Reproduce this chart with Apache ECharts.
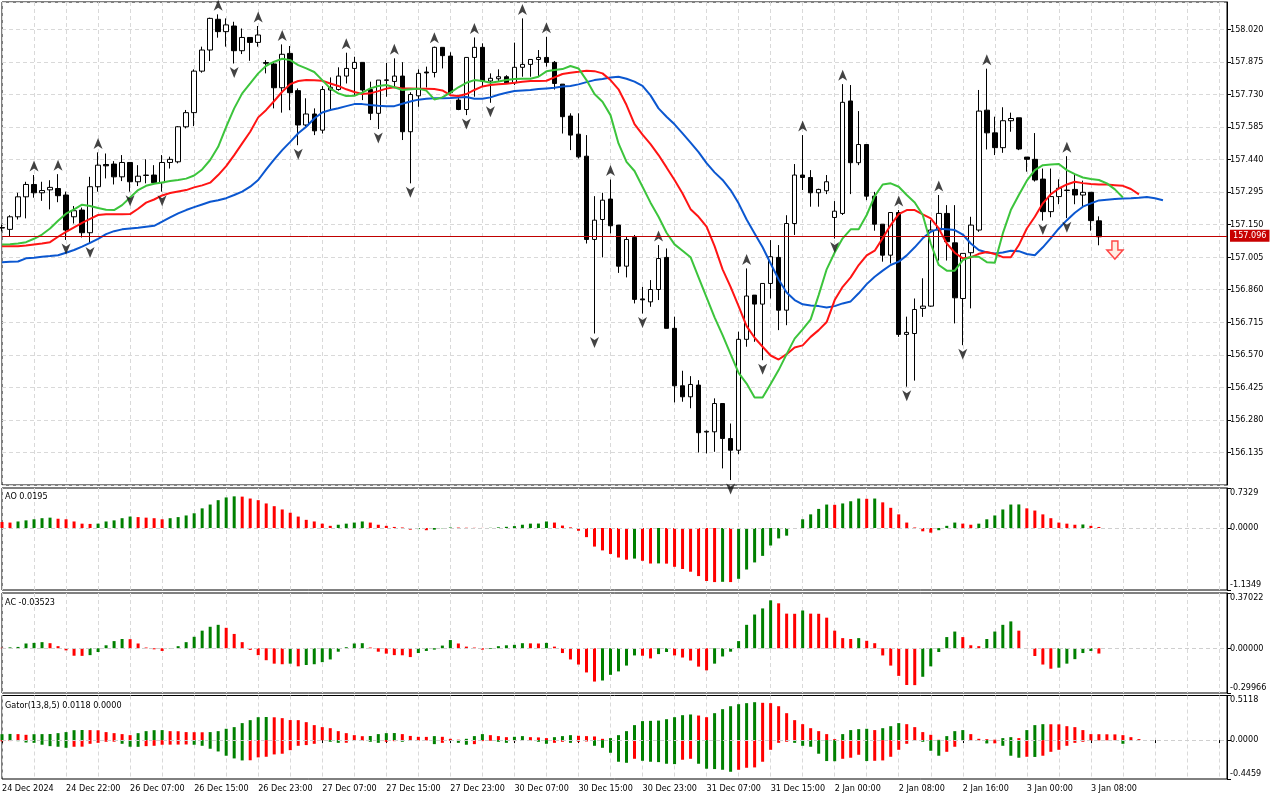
<!DOCTYPE html>
<html><head><meta charset="utf-8">
<script src="https://cdn.jsdelivr.net/npm/echarts@6/dist/echarts.min.js"></script>
<style>html,body{margin:0;padding:0;background:#fff}#c{width:1280px;height:800px}</style>
</head><body><div id="c"></div>
<script>
// ---------- DATA (hourly bars) ----------
const tickLabels = ["24 Dec 2024","24 Dec 22:00","26 Dec 07:00","26 Dec 15:00","26 Dec 23:00","27 Dec 07:00","27 Dec 15:00","27 Dec 23:00","30 Dec 07:00","30 Dec 15:00","30 Dec 23:00","31 Dec 07:00","31 Dec 15:00","2 Jan 00:00","2 Jan 08:00","2 Jan 16:00","3 Jan 00:00","3 Jan 08:00"];
const slotCount = 154;
const lastPrice = 157.096;

const opens = [157.135,157.129,157.185,157.274,157.329,157.292,157.305,157.311,157.282,157.185,
157.215,157.114,157.319,157.418,157.420,157.363,157.427,157.341,157.369,157.371,
157.337,157.427,157.430,157.586,157.649,157.834,157.928,158.065,158.010,158.035,
157.925,157.984,157.962,157.872,157.866,157.760,157.913,157.747,157.594,157.643,
157.571,157.750,157.752,157.812,157.846,157.873,157.752,157.646,157.793,157.788,
157.812,157.564,157.724,157.830,157.828,157.940,157.901,157.705,157.663,157.895,
157.940,157.790,157.800,157.809,157.782,157.851,157.864,157.886,157.895,157.873,
157.776,157.634,157.553,157.455,157.084,157.173,157.264,157.148,156.965,157.093,
156.819,156.806,156.861,157.004,156.688,156.432,156.383,156.435,156.226,156.227,
156.353,156.197,156.145,156.639,156.836,156.796,156.888,157.004,156.769,157.155,
157.371,157.360,157.292,157.301,157.182,157.200,157.701,157.426,157.507,157.277,
157.152,157.014,157.204,156.661,156.665,156.777,156.787,157.126,157.200,157.069,
156.821,157.025,157.126,157.660,157.559,157.493,157.613,157.626,157.451,157.441,
157.353,157.208,157.275,157.302,157.307,157.282,157.294,157.167];
const closes = [157.137,157.185,157.274,157.329,157.292,157.302,157.316,157.279,157.126,157.212,
157.114,157.319,157.415,157.412,157.363,157.427,157.341,157.366,157.371,157.337,
157.427,157.441,157.586,157.649,157.834,157.928,158.069,158.010,158.040,157.925,
157.984,157.962,157.995,157.869,157.760,157.909,157.738,157.594,157.643,157.568,
157.752,157.762,157.812,157.846,157.873,157.750,157.646,157.794,157.795,157.812,
157.564,157.730,157.824,157.826,157.940,157.903,157.738,157.663,157.895,157.940,
157.790,157.802,157.809,157.782,157.851,157.864,157.886,157.895,157.873,157.779,
157.631,157.549,157.452,157.084,157.170,157.259,157.145,156.965,157.084,156.817,
156.815,156.861,156.999,156.688,156.432,156.383,156.438,156.223,156.229,156.353,
156.197,156.145,156.639,156.832,156.796,156.888,157.007,156.769,157.155,157.371,
157.360,157.292,157.307,157.341,157.210,157.695,157.426,157.507,157.277,157.152,
157.014,157.204,156.661,156.670,156.772,156.787,157.126,157.200,157.074,156.824,
157.022,157.148,157.656,157.559,157.493,157.613,157.623,157.487,157.441,157.349,
157.208,157.275,157.312,157.304,157.282,157.294,157.168,157.096];
const lows = [157.120,157.096,157.173,157.178,157.270,157.256,157.218,157.250,157.082,157.155,
157.093,157.066,157.297,157.356,157.329,157.344,157.297,157.322,157.334,157.334,
157.297,157.400,157.423,157.579,157.589,157.827,157.879,157.983,157.943,157.868,
157.910,157.880,157.943,157.824,157.668,157.649,157.660,157.504,157.586,157.549,
157.556,157.660,157.747,157.779,157.727,157.705,157.616,157.576,157.720,157.761,
157.527,157.334,157.675,157.761,157.806,157.846,157.732,157.660,157.638,157.720,
157.764,157.693,157.787,157.779,157.772,157.809,157.809,157.809,157.854,157.752,
157.556,157.482,157.445,157.066,156.665,157.004,157.111,156.935,156.915,156.799,
156.754,156.784,156.814,156.688,156.358,156.361,156.332,156.135,156.131,156.138,
156.064,156.012,156.127,156.606,156.628,156.546,156.821,156.680,156.702,157.104,
157.304,157.230,157.230,157.286,157.088,157.193,157.286,157.415,157.259,157.123,
156.985,156.977,156.650,156.428,156.455,156.739,156.784,156.990,156.990,156.710,
156.613,156.777,157.118,157.485,157.460,157.470,157.564,157.482,157.386,157.342,
157.168,157.183,157.241,157.179,157.241,157.233,157.123,157.058];
const highs = [157.150,157.192,157.292,157.341,157.371,157.341,157.348,157.375,157.297,157.233,
157.226,157.363,157.472,157.467,157.433,157.460,157.427,157.415,157.441,157.415,
157.460,157.453,157.589,157.661,157.842,157.943,158.072,158.087,158.069,158.054,
158.024,157.984,158.035,157.883,157.876,157.953,157.946,157.757,157.713,157.668,
157.767,157.806,157.851,157.916,157.898,157.873,157.787,157.794,157.871,157.891,
157.874,157.740,157.842,157.854,157.943,157.940,157.918,157.720,157.895,157.984,
157.958,157.824,157.842,157.816,157.961,158.069,157.886,157.928,157.987,157.879,
157.776,157.646,157.646,157.549,157.277,157.292,157.351,157.148,157.099,157.104,
156.873,156.903,157.059,157.044,156.740,156.499,156.475,156.457,156.233,156.376,
156.353,156.264,156.673,156.955,156.836,156.888,157.081,157.059,157.192,157.420,
157.549,157.393,157.310,157.371,157.255,157.776,157.772,157.656,157.507,157.296,
157.152,157.204,157.215,156.740,156.821,156.911,157.170,157.282,157.237,157.237,
157.022,157.185,157.750,157.845,157.631,157.673,157.649,157.626,157.451,157.558,
157.400,157.400,157.352,157.455,157.378,157.346,157.294,157.187];

// Alligator lines (as displayed, already shifted forward)
const jawLine = [156.983,156.985,156.986,157.000,157.002,157.007,157.010,157.014,157.025,157.037,
157.052,157.069,157.087,157.108,157.121,157.129,157.133,157.136,157.141,157.145,
157.163,157.182,157.200,157.215,157.228,157.240,157.252,157.259,157.268,157.282,
157.297,157.319,157.349,157.396,157.441,157.482,157.519,157.557,157.586,157.623,
157.650,157.661,157.669,157.678,157.687,157.687,157.683,157.680,157.678,157.678,
157.689,157.699,157.707,157.711,157.713,157.713,157.714,157.717,157.719,157.711,
157.711,157.717,157.729,157.738,157.745,157.748,157.750,157.754,157.757,157.760,
157.765,157.768,157.775,157.785,157.794,157.799,157.806,157.809,157.800,157.787,
157.768,157.726,157.668,157.631,157.597,157.557,157.515,157.473,157.424,157.383,
157.349,157.304,157.245,157.173,157.111,157.049,156.977,156.906,156.848,156.814,
156.795,156.790,156.787,156.781,156.787,156.799,156.808,156.844,156.885,156.918,
156.945,156.970,156.985,157.013,157.049,157.089,157.118,157.132,157.129,157.126,
157.106,157.066,157.037,157.026,157.022,157.026,157.034,157.032,157.019,157.014,
157.049,157.090,157.133,157.170,157.203,157.230,157.245,157.258,157.261,157.264,
157.267,157.268,157.270,157.273,157.268,157.259];
const teethLine = [157.054,157.054,157.054,157.057,157.062,157.066,157.072,157.096,157.118,157.138,
157.158,157.176,157.193,157.196,157.196,157.196,157.197,157.221,157.248,157.262,
157.280,157.291,157.298,157.304,157.316,157.325,157.337,157.371,157.411,157.460,
157.512,157.564,157.628,157.661,157.701,157.742,157.776,157.790,157.794,157.793,
157.791,157.779,157.768,157.753,157.741,157.732,157.735,157.745,157.756,157.762,
157.757,157.757,157.756,157.756,157.754,157.748,157.727,157.723,157.732,157.750,
157.766,157.772,157.775,157.778,157.782,157.787,157.790,157.790,157.791,157.806,
157.821,157.827,157.831,157.836,157.834,157.824,157.794,157.753,157.683,157.598,
157.551,157.509,157.460,157.405,157.349,157.289,157.219,157.185,157.141,157.054,
156.951,156.873,156.787,156.698,156.646,156.606,156.567,156.549,156.573,156.603,
156.612,156.650,156.680,156.716,156.814,156.873,156.915,156.970,157.013,157.034,
157.090,157.148,157.197,157.215,157.215,157.196,157.178,157.133,157.066,157.025,
157.000,157.004,157.020,157.028,157.019,157.005,157.005,157.059,157.133,157.185,
157.245,157.286,157.311,157.329,157.341,157.335,157.331,157.329,157.329,157.326,
157.323,157.309,157.285];
const lipsLine = [157.062,157.063,157.066,157.072,157.087,157.106,157.133,157.167,157.199,157.218,
157.239,157.233,157.224,157.216,157.215,157.237,157.271,157.304,157.323,157.332,
157.338,157.344,157.349,157.355,157.369,157.396,157.438,157.497,157.586,157.668,
157.735,157.779,157.824,157.858,157.876,157.889,157.883,157.861,157.846,157.830,
157.794,157.757,157.735,157.723,157.724,157.738,157.757,157.768,157.772,157.762,
157.750,157.753,157.756,157.747,157.708,157.717,157.738,157.762,157.782,157.794,
157.790,157.782,157.788,157.794,157.799,157.800,157.800,157.809,157.833,157.839,
157.843,157.857,157.846,157.794,157.732,157.698,157.638,157.512,157.430,157.389,
157.319,157.248,157.185,157.114,157.062,157.034,157.005,156.915,156.826,156.737,
156.658,156.573,156.490,156.442,156.380,156.380,156.440,156.502,156.573,156.642,
156.683,156.728,156.836,156.951,157.026,157.089,157.129,157.129,157.193,157.277,
157.329,157.334,157.319,157.282,157.249,157.193,157.066,156.970,156.945,156.945,
156.992,157.007,157.007,156.983,156.980,157.111,157.215,157.282,157.346,157.393,
157.415,157.418,157.420,157.393,157.375,157.360,157.353,157.349,157.334,157.307,
157.271];

const fractalUpBars = [4,7,12,27,32,35,43,49,54,59,65,68,76,82,93,100,105,112,117,123,133];
const fractalDownBars = [8,11,16,20,29,37,47,51,58,61,74,80,91,95,104,113,120,130,133];
const sellSignalBars = [139];
const sellSignalPrices = [157.037];

const aoValues = [0.11,0.10,0.12,0.14,0.16,0.18,0.19,0.17,0.16,0.12,
0.08,0.075,0.08,0.12,0.14,0.18,0.21,0.20,0.19,0.18,
0.16,0.18,0.20,0.23,0.27,0.36,0.43,0.51,0.56,0.58,
0.575,0.54,0.51,0.45,0.40,0.34,0.28,0.21,0.15,0.12,
0.08,0.04,0.06,0.08,0.10,0.12,0.10,0.06,0.04,0.02,
0.01,-0.03,-0.02,-0.04,-0.03,-0.005,0.01,0.008,0.005,0.003,
0.002,0.004,0.012,0.022,0.035,0.06,0.08,0.082,0.12,0.10,
0.045,0.012,-0.05,-0.167,-0.34,-0.41,-0.475,-0.54,-0.58,-0.56,
-0.60,-0.65,-0.648,-0.652,-0.71,-0.75,-0.80,-0.88,-0.97,-0.99,
-0.985,-0.99,-0.93,-0.76,-0.63,-0.51,-0.32,-0.19,-0.14,-0.005,
0.16,0.25,0.35,0.43,0.425,0.45,0.49,0.54,0.535,0.54,
0.47,0.37,0.25,0.10,0.01,-0.06,-0.085,-0.04,0.04,0.10,
0.08,0.06,0.08,0.16,0.23,0.34,0.43,0.432,0.36,0.32,
0.25,0.18,0.10,0.08,0.06,0.065,0.04,0.0195];
const acValues = [0.003,0.006,0.009,0.032,0.036,0.041,0.034,0.014,-0.014,-0.050,
-0.051,-0.046,-0.025,0.020,0.048,0.062,0.061,0.032,0.005,-0.007,
-0.018,-0.002,0.014,0.041,0.077,0.118,0.144,0.157,0.137,0.096,
0.041,-0.011,-0.046,-0.080,-0.103,-0.107,-0.103,-0.121,-0.112,-0.107,
-0.093,-0.075,-0.023,0.007,0.032,0.034,0.005,-0.023,-0.036,-0.046,
-0.047,-0.059,-0.032,-0.018,-0.009,0.018,0.055,0.032,0.011,0.005,
-0.009,-0.005,0.014,0.020,0.023,0.034,0.033,0.032,0.036,0.011,
-0.032,-0.075,-0.109,-0.162,-0.223,-0.216,-0.178,-0.155,-0.116,-0.048,
-0.050,-0.068,-0.039,-0.025,-0.048,-0.062,-0.082,-0.123,-0.148,-0.103,
-0.055,-0.023,0.048,0.157,0.226,0.267,0.321,0.301,0.232,0.231,
0.253,0.232,0.231,0.205,0.118,0.068,0.062,0.068,0.050,0.034,
-0.048,-0.116,-0.185,-0.246,-0.247,-0.191,-0.121,-0.025,0.075,0.112,
0.075,0.020,0.014,0.062,0.112,0.157,0.180,0.118,0.002,-0.052,
-0.109,-0.137,-0.130,-0.103,-0.073,-0.032,-0.018,-0.03523];
const gatorUpper = [0.068,0.071,0.069,0.061,0.068,0.069,0.070,0.080,0.092,0.114,
0.116,0.115,0.113,0.092,0.080,0.069,0.057,0.080,0.103,0.114,
0.115,0.103,0.102,0.092,0.091,0.090,0.092,0.103,0.130,0.149,
0.195,0.229,0.263,0.265,0.262,0.252,0.230,0.229,0.206,0.172,
0.149,0.137,0.103,0.080,0.057,0.045,0.047,0.069,0.080,0.081,
0.069,0.048,0.038,0.037,0.046,0.038,0.015,0.005,0.015,0.046,
0.069,0.057,0.046,0.034,0.038,0.046,0.034,0.031,0.023,0.034,
0.046,0.057,0.050,0.046,0.042,0.015,0.023,0.057,0.103,0.172,
0.218,0.221,0.224,0.240,0.263,0.286,0.294,0.282,0.263,0.309,
0.355,0.389,0.412,0.424,0.435,0.428,0.424,0.389,0.309,0.229,
0.183,0.137,0.103,0.069,0.011,0.069,0.115,0.126,0.130,0.115,
0.137,0.160,0.195,0.183,0.149,0.092,0.061,0.004,0.046,0.103,
0.115,0.069,0.015,0.011,0.005,0.023,0.034,0.023,0.115,0.172,
0.183,0.182,0.181,0.160,0.149,0.115,0.069,0.068,0.067,0.066,
0.057,0.034,0.0118];
const gatorLower = [-0.014,-0.011,-0.012,-0.027,-0.031,-0.053,-0.069,-0.076,-0.088,-0.076,
-0.075,-0.042,-0.031,-0.019,-0.018,-0.042,-0.076,-0.077,-0.069,-0.065,
-0.053,-0.052,-0.051,-0.050,-0.053,-0.065,-0.099,-0.130,-0.179,-0.210,
-0.233,-0.231,-0.198,-0.191,-0.164,-0.156,-0.115,-0.065,-0.057,-0.042,
-0.002,-0.019,-0.031,-0.030,-0.008,-0.007,-0.019,-0.031,-0.019,-0.012,
-0.019,-0.010,-0.006,-0.004,-0.046,-0.031,-0.008,-0.031,-0.053,-0.046,
-0.011,-0.008,-0.019,-0.031,-0.011,-0.008,-0.004,-0.019,-0.042,-0.031,
-0.019,-0.031,-0.019,-0.015,-0.065,-0.088,-0.145,-0.248,-0.260,-0.214,
-0.237,-0.248,-0.252,-0.271,-0.275,-0.225,-0.214,-0.271,-0.328,-0.332,
-0.340,-0.363,-0.340,-0.317,-0.313,-0.248,-0.111,-0.031,-0.019,-0.031,
-0.065,-0.076,-0.156,-0.240,-0.242,-0.214,-0.202,-0.168,-0.240,-0.237,
-0.233,-0.191,-0.111,-0.042,-0.008,-0.019,-0.122,-0.179,-0.134,-0.076,
-0.008,-0.004,-0.003,-0.038,-0.037,-0.065,-0.179,-0.202,-0.191,-0.193,
-0.179,-0.134,-0.111,-0.065,-0.031,-0.019,-0.008,-0.003,-0.002,-0.001,
-0.042];

// ---------- CHART ----------
const FONT = "'DejaVu Sans Condensed','Liberation Sans',Arial,sans-serif";
const GREEN = '#008000', RED = '#ff0000';
const GRID_DASH = {color:'#d9d9d9', type:[4,3], width:1};
const slots = Array.from({length: slotCount}, (_, i) => String(i));
const every4 = (idx) => idx % 4 === 0;
const every8 = (idx) => idx % 8 === 0;

function changeColors(arr, useAbs, firstColor) {
  return arr.map((v, i) => {
    if (i === 0) return firstColor;
    const a = useAbs ? Math.abs(v) : v, b = useAbs ? Math.abs(arr[i-1]) : arr[i-1];
    return a > b ? GREEN : RED;
  });
}
function histData(arr, useAbs, firstColor) {
  const cols = changeColors(arr, useAbs, firstColor);
  return arr.map((v, i) => ({value: v, itemStyle: {color: cols[i]}}));
}

const grids = [
  {left: 2, right: 53, top: 2, height: 483},
  {left: 2, right: 53, top: 488, height: 102},
  {left: 2, right: 53, top: 593, height: 100},
  {left: 2, right: 53, top: 695.5, height: 83.5}
].map(g => Object.assign(g, {show: true, borderColor: '#000', borderWidth: 1, backgroundColor: '#fff', containLabel: false, outerBoundsMode: 'none'}));

const xAxes = grids.map((g, k) => ({
  type: 'category', gridIndex: k, data: slots, boundaryGap: false,
  axisLine: {show: false},
  axisTick: {show: k === 3, interval: every8, length: 3, lineStyle: {color: '#000'}},
  axisLabel: {show: k === 3, interval: every8, align: 'left', margin: 5, color: '#000',
    fontSize: 9, fontFamily: FONT, hideOverlap: false,
    formatter: (v) => { const n = Number(v); return n % 8 === 0 && tickLabels[n/8] ? tickLabels[n/8] : ''; }},
  splitLine: {show: true, interval: every4, lineStyle: GRID_DASH}
}));

function subY(g, min, max, dec) {
  const vals = [min, 0, max];
  const lab = {fontSize: 9, fontFamily: FONT, color: '#000'};
  return {
    type: 'value', gridIndex: g, position: 'right', min: min, max: max, scale: false,
    splitLine: {show: false},
    axisLine: {show: true, lineStyle: {color: '#000'}},
    axisTick: {show: true, length: 4, customValues: vals, lineStyle: {color: '#000'}},
    axisLabel: Object.assign({customValues: vals, margin: 3,
      formatter: (v) => { const s = v.toFixed(dec); if (v === max) return '{t|' + s + '}'; if (v === min) return '{b|' + s + '}'; return s; },
      rich: {t: Object.assign({padding: [9, 0, 0, 0]}, lab), b: Object.assign({padding: [0, 0, 11, 0]}, lab)}}, lab)
  };
}

const yAxes = [
  {type: 'value', gridIndex: 0, position: 'right', min: 155.990, max: 158.142, interval: 0.145,
   splitLine: {show: true, lineStyle: GRID_DASH},
   axisLine: {show: true, lineStyle: {color: '#000'}},
   axisTick: {show: true, length: 4, lineStyle: {color: '#000'}},
   axisLabel: {showMinLabel: false, showMaxLabel: false, margin: 3, color: '#000', fontSize: 9, fontFamily: FONT,
     formatter: (v) => v.toFixed(3)}},
  subY(1, -1.1349, 0.7329, 4),
  subY(2, -0.29966, 0.37022, 5),
  subY(3, -0.4459, 0.5118, 4)
];

const zeroLine = {silent: true, symbol: 'none', label: {show: false}, data: [{yAxis: 0}],
  lineStyle: {color: '#cfcfcf', type: [4, 3], width: 1}};

const lineS = (data, color) => ({type: 'line', xAxisIndex: 0, yAxisIndex: 0, data: data, showSymbol: false,
  symbol: 'none', smooth: false, lineStyle: {color: color, width: 2}, silent: true, z: 3});

const ARROW = 'path://M5,0 L10,11 L5,8 L0,11 Z';
const SELL = 'path://M5,0 L11,0 L11,9 L16,9 L8,18 L0,9 L5,9 Z';
const titleStyle = {fontSize: 9, fontWeight: 'normal', color: '#000', fontFamily: FONT};

const option = {
  animation: false,
  backgroundColor: '#ffffff',
  textStyle: {fontFamily: FONT},
  title: [
    {text: 'AO ' + aoValues[aoValues.length-1].toFixed(4), left: 5, top: 492.5, padding: 0, textStyle: titleStyle},
    {text: 'AC ' + acValues[acValues.length-1].toFixed(5), left: 5, top: 598, padding: 0, textStyle: titleStyle},
    {text: 'Gator(13,8,5) ' + gatorUpper[gatorUpper.length-1].toFixed(4) + ' 0.0000', left: 5, top: 701, padding: 0, textStyle: titleStyle}
  ],
  grid: grids,
  xAxis: xAxes,
  yAxis: yAxes,
  series: [
    {type: 'candlestick', xAxisIndex: 0, yAxisIndex: 0, barWidth: 5,
     data: opens.map((o, i) => [o, closes[i], lows[i], highs[i]]),
     itemStyle: {color: '#ffffff', color0: '#000000', borderColor: '#000000', borderColor0: '#000000', borderWidth: 1},
     markLine: {silent: true, symbol: 'none', data: [{yAxis: lastPrice}],
       lineStyle: {color: '#c00000', width: 1, type: 'solid'},
       label: {show: true, position: 'end', distance: 3, formatter: lastPrice.toFixed(3), color: '#fff',
         backgroundColor: '#c80000', padding: [2, 3, 1, 3], fontSize: 9, fontFamily: FONT}}},
    lineS(jawLine, '#0b57d0'),
    lineS(teethLine, '#ff1414'),
    lineS(lipsLine, '#3cc43c'),
    {type: 'scatter', xAxisIndex: 0, yAxisIndex: 0, symbol: ARROW, symbolSize: [9, 11], symbolOffset: [0, -9],
     itemStyle: {color: '#141414'}, data: fractalUpBars.map(i => [i, highs[i]]), z: 4, silent: true},
    {type: 'scatter', xAxisIndex: 0, yAxisIndex: 0, symbol: ARROW, symbolSize: [9, 11], symbolRotate: 180, symbolOffset: [0, 9],
     itemStyle: {color: '#141414'}, data: fractalDownBars.map(i => [i, lows[i]]), z: 4, silent: true},
    {type: 'scatter', xAxisIndex: 0, yAxisIndex: 0, symbol: SELL, symbolSize: [16, 18],
     itemStyle: {color: '#ffe8dc', borderColor: '#ff1a1a', borderWidth: 1.5},
     data: sellSignalBars.map((b, k) => [b, sellSignalPrices[k]]), z: 5, silent: true},
    {type: 'bar', xAxisIndex: 1, yAxisIndex: 1, barWidth: 3, data: histData(aoValues, false, RED), markLine: zeroLine, silent: true},
    {type: 'bar', xAxisIndex: 2, yAxisIndex: 2, barWidth: 3, data: histData(acValues, false, RED), markLine: zeroLine, silent: true},
    {type: 'bar', xAxisIndex: 3, yAxisIndex: 3, barWidth: 3, barGap: '-100%', data: histData(gatorUpper, true, GREEN), markLine: zeroLine, silent: true},
    {type: 'bar', xAxisIndex: 3, yAxisIndex: 3, barWidth: 3, barGap: '-100%', data: histData(gatorLower, true, RED), silent: true}
  ]
};

const chart = echarts.init(document.getElementById('c'), null, {renderer: 'canvas'});
chart.setOption(option);
</script>
</body></html>
